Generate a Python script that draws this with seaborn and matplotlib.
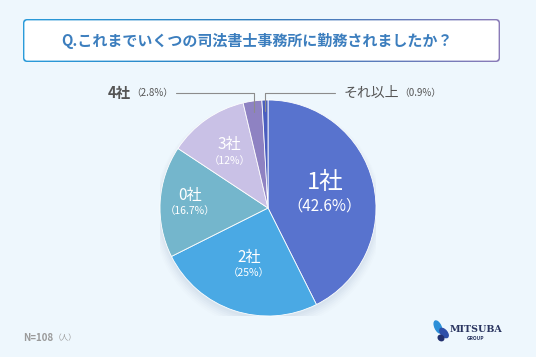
import numpy as np
import matplotlib
matplotlib.use("Agg")
import matplotlib.pyplot as plt
import seaborn as sns
from matplotlib.patches import FancyBboxPatch, Circle, Ellipse

# ---- data ----
categories = ["1社", "2社", "0社", "3社", "4社", "それ以上"]
percent_labels = ["（42.6%）", "（25%）", "（16.7%）", "（12%）", "（2.8%）", "（0.9%）"]
values = [42.6, 25.0, 16.7, 12.0, 2.8, 0.9]
colors = ["#5873CE", "#4AA9E4", "#74B6CC", "#C9C1E6", "#8E82C2", "#4B5EBF"]
title = "Q.これまでいくつの司法書士事務所に勤務されましたか？"
note_main = "N=108"
note_unit = "（人）"

sns.set_theme(style="white")
plt.rcParams['font.family'] = ['Noto Sans CJK JP', 'DejaVu Sans']

W, H = 536, 357
fig = plt.figure(figsize=(W / 100, H / 100), dpi=100)
fig.patch.set_facecolor("#EEF7FD")

# full-figure overlay axes in pixel coordinates (y down)
bg = fig.add_axes([0, 0, 1, 1])
bg.set_xlim(0, W)
bg.set_ylim(H, 0)
bg.axis("off")

# title box with gradient border
x0, y0, x1, y1 = 23, 19, 500, 62
grad = np.linspace(0, 1, 256).reshape(1, -1)
cmap = matplotlib.colors.LinearSegmentedColormap.from_list("g", ["#2A9BDA", "#2F7DBE", "#8A7BB8"])
outer = FancyBboxPatch((x0, y0), x1 - x0, y1 - y0, boxstyle="round,pad=0,rounding_size=4",
                       facecolor="none", edgecolor="none", transform=bg.transData)
bg.add_patch(outer)
im = bg.imshow(grad, extent=[x0, x1, y1, y0], cmap=cmap, aspect="auto", zorder=1)
im.set_clip_path(outer)
inner = FancyBboxPatch((x0 + 1.4, y0 + 1.4), x1 - x0 - 2.8, y1 - y0 - 2.8,
                       boxstyle="round,pad=0,rounding_size=3", facecolor="white",
                       edgecolor="none", zorder=2)
bg.add_patch(inner)
bg.text(257, 41, title, ha="center", va="center", fontsize=10.8, fontweight="bold",
        color="#3C7EBE", zorder=3)

# footnote
t1 = bg.text(23, 338, note_main, ha="left", va="center", fontsize=7, color="#9A9A9A",
             fontweight="bold")
bg.annotate(note_unit, xy=(1, 0.5), xycoords=t1, ha="left", va="center",
            fontsize=5.5, color="#9A9A9A")

# logo
bg.add_patch(Ellipse((438, 327), 6, 13, angle=-25, color="#2B8FD8", zorder=3))
bg.add_patch(Ellipse((444, 333), 6, 11, angle=-40, color="#2E4FA8", zorder=3))
bg.add_patch(Ellipse((441, 338), 5, 6, angle=-50, color="#22306E", zorder=3))
bg.text(476, 329, "MITSUBA", ha="center", va="center", fontsize=6.8, fontweight="bold",
        family="DejaVu Serif", color="#2A3560")
bg.text(476, 338, "GROUP", ha="center", va="center", fontsize=3.5, fontweight="bold",
        color="#2A3560")

# pie axes
cx, cy, R = 268, 208, 108
ax = fig.add_axes([(cx - R) / W, (H - cy - R) / H, 2 * R / W, 2 * R / H])
ax.set_facecolor("none")

# soft shadow
for i, a in enumerate(np.linspace(0.03, 0.012, 6)):
    ax.add_patch(Circle((0, -0.03 - 0.006 * i), 1.0 + 0.012 * i, color="#4A6A9A",
                        alpha=a, zorder=0, lw=0))

wedges, _ = ax.pie(values, colors=colors, startangle=90, counterclock=False,
                   wedgeprops=dict(linewidth=0.6, edgecolor="white"), radius=1.0)
for w in wedges:
    w.set_zorder(2)
ax.set_xlim(-1.0, 1.0)
ax.set_ylim(-1.0, 1.0)
ax.set_aspect("equal")
ax.axis("off")

def mid_angle(w):
    return np.deg2rad((w.theta1 + w.theta2) / 2)

inside_r = [0.54, 0.56, 0.72, 0.62]
big_fs = [17, 11, 11, 11]
small_fs = [11, 7.5, 7.5, 7.5]
gap = [0.115, 0.075, 0.075, 0.075]
for i in range(4):
    a = mid_angle(wedges[i])
    x, y = inside_r[i] * np.cos(a), inside_r[i] * np.sin(a)
    ax.text(x, y + gap[i], categories[i], ha="center", va="center", color="white",
            fontsize=big_fs[i], zorder=5)
    ax.text(x, y - gap[i] * 0.95, percent_labels[i], ha="center", va="center",
            color="white", fontsize=small_fs[i], zorder=5)

# leader lines for small slices
yline = 1.065
for i, xend, side in [(4, -0.85, "left"), (5, 0.62, "right")]:
    a = mid_angle(wedges[i])
    xs = 0.9 * np.cos(a)
    ys = 0.9 * np.sin(a)
    ax.plot([xs, xs, xend], [ys, yline, yline], color="#8C8C8C", lw=0.8,
            zorder=6, clip_on=False)
    if side == "left":
        tp = ax.text(xend - 0.03, yline, percent_labels[i], ha="right", va="center",
                     fontsize=7, color="#555555", clip_on=False)
        ax.annotate(categories[i], xy=(0, 0.5), xycoords=tp, ha="right", va="center",
                    fontsize=10.5, fontweight="bold", color="#555555")
    else:
        tc = ax.text(xend + 0.08, yline, categories[i], ha="left", va="center",
                     fontsize=10, color="#555555", clip_on=False)
        ax.annotate(percent_labels[i], xy=(1, 0.5), xycoords=tc, ha="left",
                    va="center", fontsize=7, color="#555555")

fig.savefig("out.png", dpi=100, facecolor=fig.get_facecolor())
